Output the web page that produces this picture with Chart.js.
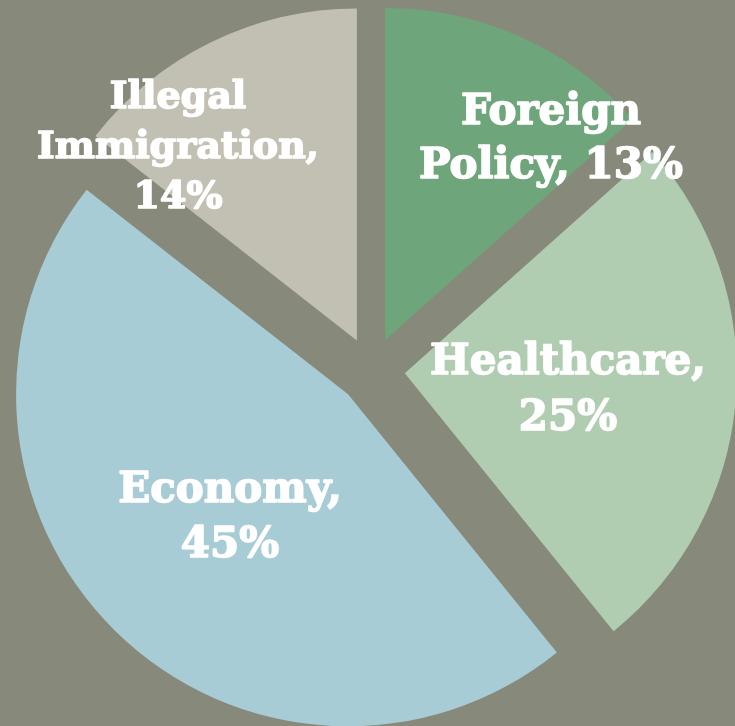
<!DOCTYPE html>
<html>
<head>
<meta charset="utf-8">
<script src="https://cdn.jsdelivr.net/npm/chart.js@4.4.1/dist/chart.umd.min.js"></script>
<style>
  html, body { margin: 0; padding: 0; background: #87897a; overflow: hidden; }
  #wrap { width: 735px; height: 726px; }
</style>
</head>
<body>
<div id="wrap"><canvas id="c" width="735" height="726"></canvas></div>
<script>
// ---- data ----
const categories = ['Foreign Policy', 'Healthcare', 'Economy', 'Illegal Immigration'];
const values = [13, 25, 45, 14];
const sliceColors = ['#6fa57a', '#b0cdb2', '#a8ccd6', '#c2c0b2'];

// ---- layout of the labels (words per line, centre x, first line y, line height, font size) ----
const labelWordsPerLine = [[1, 2], [1, 1], [1, 1], [1, 1, 1]];
const labelCenterX = [551, 568, 230, 178];
const labelFirstY = [113, 363, 491, 98];
const labelLineHeight = [54, 56, 55, 50];
const labelFontSize = [42, 42, 42, 38];

const explodeDistance = 33.4;

const explodePlugin = {
  id: 'explode',
  afterDatasetUpdate(chart, args) {
    args.meta.data.forEach(arc => {
      const mid = (arc.startAngle + arc.endAngle) / 2;
      arc.x += explodeDistance * Math.cos(mid);
      arc.y += explodeDistance * Math.sin(mid);
    });
  }
};

const labelPlugin = {
  id: 'sliceLabels',
  afterDatasetsDraw(chart) {
    const ctx = chart.ctx;
    ctx.save();
    ctx.fillStyle = '#ffffff';
    ctx.strokeStyle = '#ffffff';
    ctx.lineWidth = 1.6;
    ctx.lineJoin = 'round';
    ctx.textAlign = 'center';
    ctx.textBaseline = 'middle';
    categories.forEach((cat, i) => {
      ctx.font = 'bold ' + labelFontSize[i] + 'px "DejaVu Serif"';
      const words = (cat + ', ' + values[i] + '%').split(' ');
      const lines = [];
      let k = 0;
      labelWordsPerLine[i].forEach(n => {
        lines.push(words.slice(k, k + n).join(' '));
        k += n;
      });
      lines.forEach((line, j) => {
        const y = labelFirstY[i] + j * labelLineHeight[i];
        ctx.strokeText(line, labelCenterX[i], y);
        ctx.fillText(line, labelCenterX[i], y);
      });
    });
    ctx.restore();
  }
};

new Chart(document.getElementById('c'), {
  type: 'pie',
  data: {
    labels: categories,
    datasets: [{
      data: values,
      backgroundColor: sliceColors,
      borderWidth: 0,
      radius: 332
    }]
  },
  options: {
    responsive: false,
    animation: false,
    layout: { padding: { left: 8, right: 0, top: 15, bottom: 0 } },
    plugins: {
      legend: { display: false },
      tooltip: { enabled: false }
    }
  },
  plugins: [explodePlugin, labelPlugin]
});
</script>
</body>
</html>
